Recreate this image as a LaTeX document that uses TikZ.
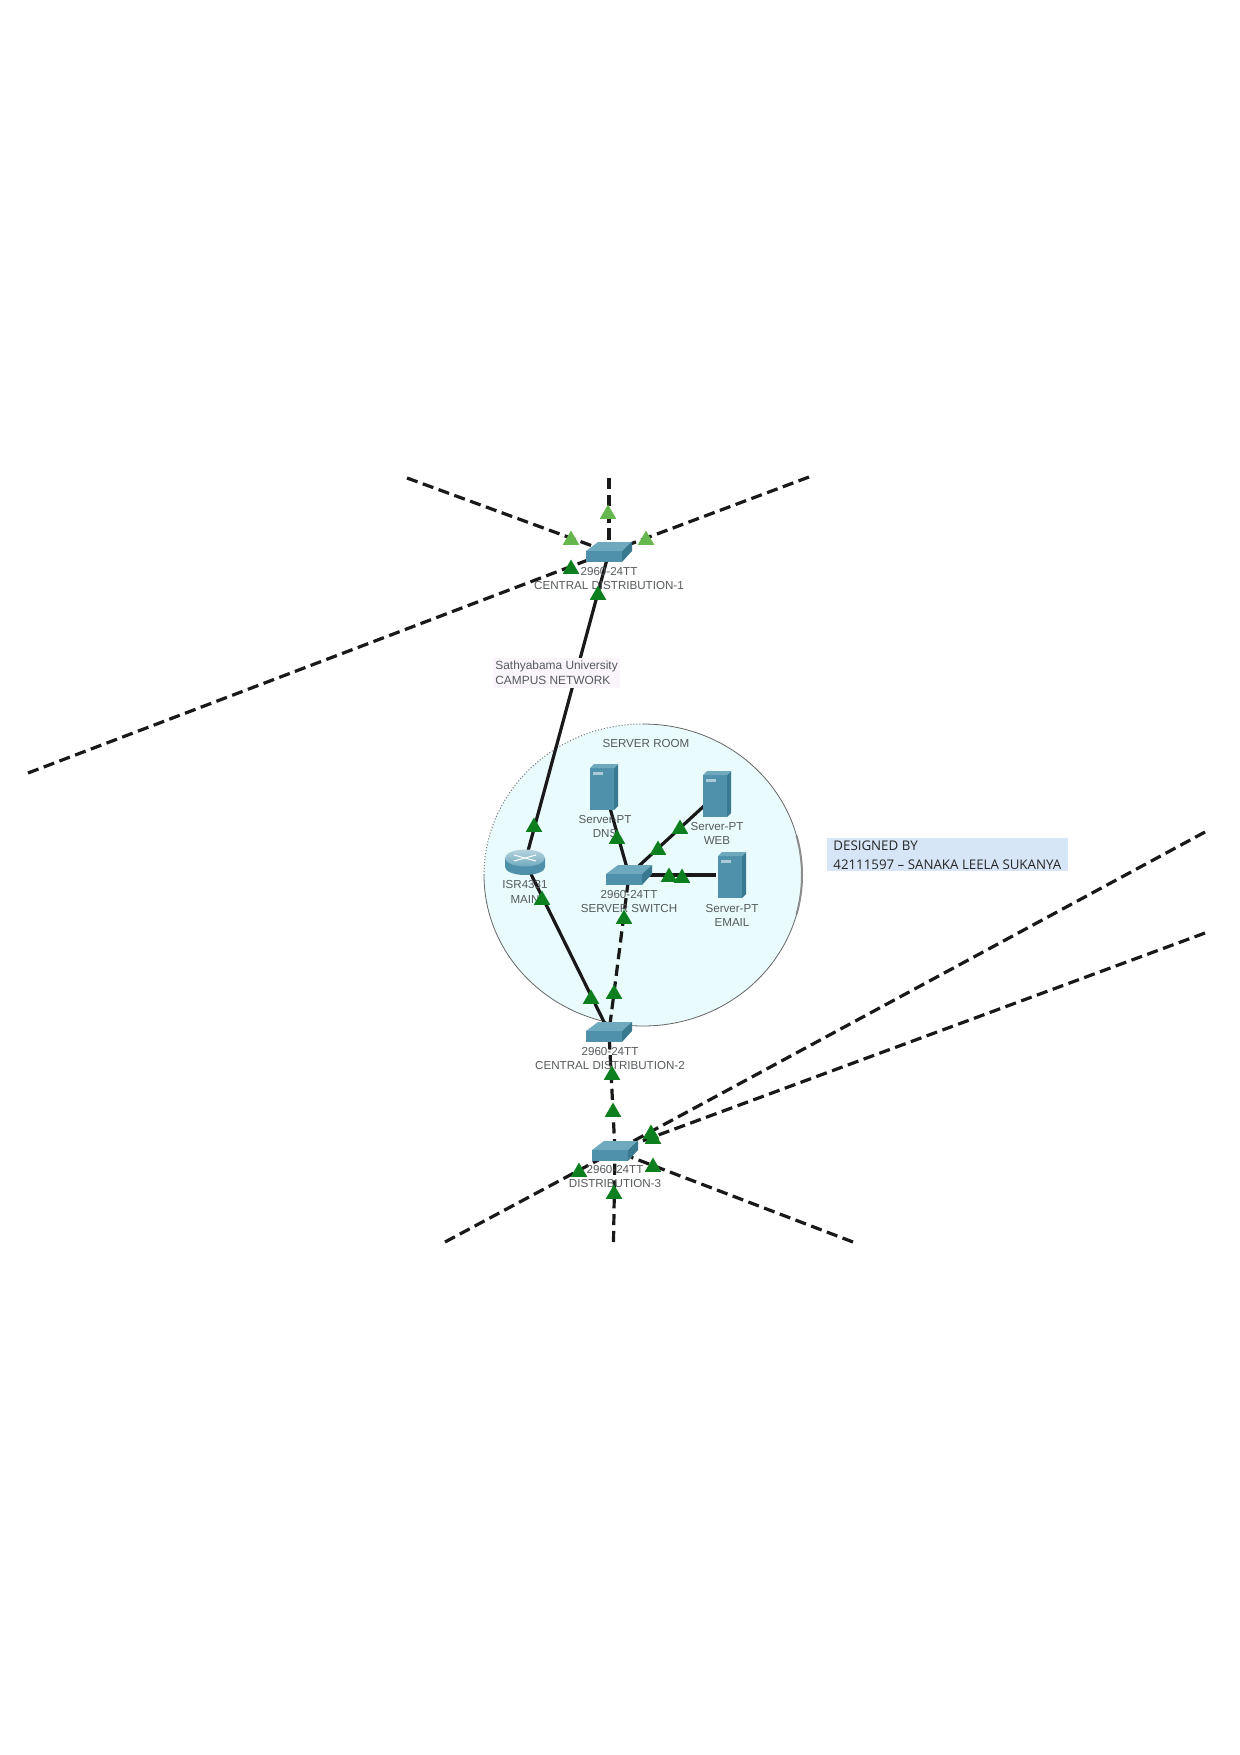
\documentclass[tikz,border=0pt]{standalone}
\usepackage{fontspec}
\setmainfont{Liberation Sans}
\newfontfamily\notefont{Open Sans}
\usetikzlibrary{shapes.geometric}
\definecolor{roomfill}{HTML}{E9FBFD}
\definecolor{linkgreen}{HTML}{0E7F1E}
\definecolor{linklight}{HTML}{66B84E}
\definecolor{labelgray}{HTML}{555A5C}
\definecolor{swtop}{HTML}{6FA9BE}
\definecolor{swfront}{HTML}{4F90AB}
\definecolor{swside}{HTML}{3A7A90}
\definecolor{notefill}{HTML}{D6E6F6}
\tikzset{
  devnode/.style={inner sep=0pt,minimum width=16pt,minimum height=6pt},
  wired/.style={line width=1.6pt,black!90},
  fiber/.style={line width=1.6pt,black!90,dash pattern=on 5.6pt off 2.8pt},
  linkup/.style={regular polygon,regular polygon sides=3,fill=linkgreen,inner sep=0pt,minimum size=9.5pt,yshift=-1pt},
  linkidle/.style={linkup,fill=linklight},
  devlabel/.style={align=center,text=labelgray,font=\fontsize{5.8}{7.4}\selectfont,inner sep=0pt},
  pics/switchicon/.style={code={
    \fill[swtop] (-23,-1) -- (-11,-10) -- (23,-10) -- (13,-1) -- cycle;
    \fill[swfront] (-23,-1) rectangle (13,10);
    \fill[swside] (13,-1) -- (23,-10) -- (23,-1) -- (13,10) -- cycle;
  }},
  pics/servericon/.style={code={
    \fill[swfront] (-14,-19) rectangle (10,23);
    \fill[swside] (10,-19) -- (14,-23) -- (14,19) -- (10,23) -- cycle;
    \fill[swtop] (-14,-19) -- (-10,-23) -- (14,-23) -- (10,-19) -- cycle;
    \fill[swtop!60!white] (-11,-15) rectangle (-1,-12);
  }},
  pics/routericon/.style={code={
    \shade[left color=swfront,middle color=swtop!40!white,right color=swfront] (-20,-4) -- (-20,5) arc (180:0:20 and 8) -- (20,-4) -- cycle;
    \shade[top color=swtop!50!white,bottom color=swtop] (0,-4) ellipse (20 and 8.5);
    \draw[white,line width=.5pt] (-11,-7) -- (11,-1) (-11,-1) -- (11,-7);
  }},
}
\begin{document}
\begin{tikzpicture}[x=.5pt,y=-.5pt]
\useasboundingbox (0,0) rectangle (1240,1755);
\fill[roomfill] (643,875) ellipse (159 and 151);
\draw[black!60,line width=.4pt] (643,875) ++(270:159 and 151) arc (270:540:159 and 151);
\draw[black!55,line width=.5pt,densely dotted] (643,875) ++(180:159 and 151) arc (180:270:159 and 151);
\draw[black!45,line width=1pt] (643,875) ++(-15:159 and 151) arc (-15:15:159 and 151);
\node[devnode] (dist1) at (609,552) {};
\node[devnode] (dist2) at (609,1032) {};
\node[devnode] (dist3) at (615,1151) {};
\node[devnode] (srvsw) at (629,875) {};
\node[devnode] (router) at (525,862) {};
\node[devnode] (dns) at (604,787) {};
\node[devnode] (web) at (717,794) {};
\node[devnode] (email) at (732,875) {};
\coordinate (farleft) at (28,773);
\coordinate (topleft) at (407,478);
\coordinate (topmid) at (609,478);
\coordinate (topright) at (809,477);
\coordinate (upright) at (1205,832);
\coordinate (lowright) at (1205,933);
\coordinate (botleft) at (445,1242);
\coordinate (botmid) at (613.5,1242);
\coordinate (botright) at (853,1242);
\foreach \a/\b in {farleft/dist1,topleft/dist1,topmid/dist1,topright/dist1,srvsw/dist2,dist2/dist3,upright/dist3,lowright/dist3,botleft/dist3,botmid/dist3,botright/dist3}
  \draw[fiber] (\a) -- (\b);
\foreach \a/\b in {dist1/router,router/dist2,dns/srvsw,web/srvsw,email/srvsw}
  \draw[wired] (\a) -- (\b);
\foreach \n in {dist1,dist2,dist3,srvsw}
  \pic at (\n) {switchicon};
\foreach \n in {dns,web,email}
  \pic at (\n) {servericon};
\pic at (router) {routericon};
\node[devlabel] (lbldist1) at (609,578.5) {2960-24TT\\CENTRAL DISTRIBUTION-1};
\node[devlabel] (lbldist2) at (610,1058.5) {2960-24TT\\CENTRAL DISTRIBUTION-2};
\node[devlabel] (lbldist3) at (615,1176.5) {2960-24TT\\DISTRIBUTION-3};
\node[devlabel] (lblsrvsw) at (629,901.5) {2960-24TT\\SERVER SWITCH};
\node[devlabel] (lblrouter) at (525,892) {ISR4331\\MAIN};
\node[devlabel] (lbldns) at (605,826.5) {Server-PT\\DNS};
\node[devlabel] (lblweb) at (717,833.5) {Server-PT\\WEB};
\node[devlabel] (lblemail) at (732,915.5) {Server-PT\\EMAIL};
\node[devlabel] (lblroom) at (646,743) {SERVER ROOM};
\node[devlabel,align=left,anchor=west,fill=violet!4,inner xsep=1pt,inner ysep=1.5pt,font=\fontsize{5.95}{7.4}\selectfont] (campus) at (493,673) {Sathyabama University\\CAMPUS NETWORK};
\node[fill=notefill,minimum width=120.5pt,minimum height=16.5pt,inner sep=0pt] (notebox) at (947.5,854.5) {};
\node[anchor=west,inner sep=0pt,font=\notefont\fontsize{6.65}{9.4}\selectfont,align=left,text=black!85] (note) at (833,855.5) {DESIGNED BY\\42111597 – SANAKA LEELA SUKANYA};
\foreach \i/\x/\y in {1/608/512,2/571/538,3/646/538}
  \node[linkidle] (idle\i) at (\x,\y) {};
\foreach \i/\x/\y in {1/571/567,2/598/593,3/534/825,4/542/898,5/591/997,6/614/992,7/624/917,8/617/837,9/658/848,10/680/827,11/669/875,12/682/876,13/612/1073,14/613/1110,15/651/1132,16/653/1137,17/579/1170,18/653/1165,19/614/1192}
  \node[linkup] (up\i) at (\x,\y) {};
\end{tikzpicture}
\end{document}
